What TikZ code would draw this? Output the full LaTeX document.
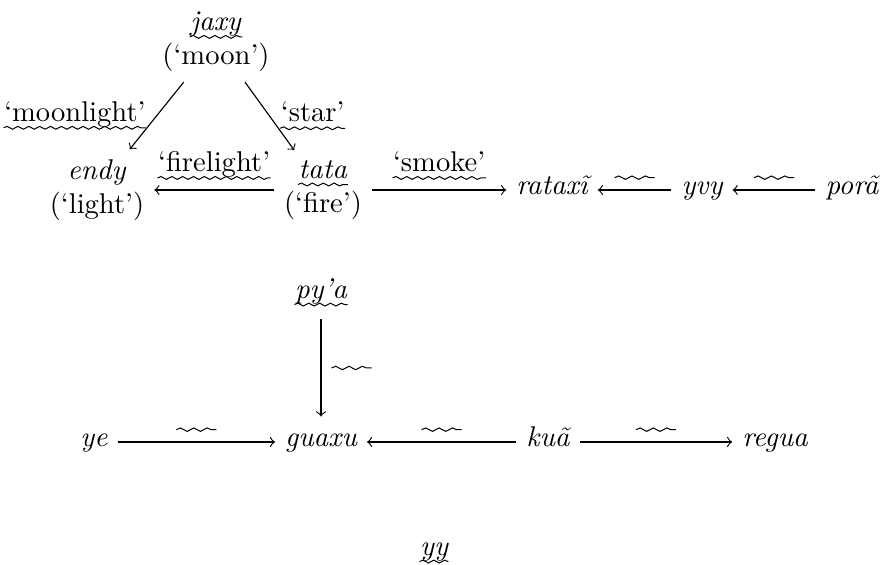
\documentclass[tikz,border=0pt]{standalone}
\usetikzlibrary{decorations.pathmorphing}

\tikzset{
    wave/.style={
        -,
        line width=.35pt,
        decorate,
        decoration={snake, amplitude=.5pt, segment length=3.8pt}
    }
}
% wavy underline and a bare wave as edge label
\newcommand{\wv}[1]{\tikz[baseline=(wv.base)]{%
    \node[inner sep=0pt] (wv) {#1};
    \draw[wave] ([yshift=-2.2pt]wv.base west) -- ([yshift=-2.2pt]wv.base east);}}
\newcommand{\wavelabel}{\tikz{\draw[wave, decoration={segment length=4.65pt, amplitude=.6pt}]
    (0pt,0pt) -- (14pt,0pt);}}

\begin{document}
\begin{tikzpicture}[
    x=0.35pt,
    y=-0.35pt,
    word/.style={
        font=\itshape,
        text height=1.6ex,
        text depth=.9ex
    },
    gloss/.style={align=center},
    edge/.style={->}
]
\useasboundingbox (0,0) rectangle (882,565);

% top: moon, light, fire
\node[gloss] (jaxy) at (216,42) {\wv{\textit{jaxy}}\\(‘moon’)};
\node[gloss] (endy) at (97,190) {\textit{endy}\\(‘light’)};
\node[gloss] (tata) at (323,190) {\wv{\textit{tata}}\\(‘fire’)};
\node[word] (rataxi) at (552,190) {rataxĩ};
\node[word] (yvy) at (702,190) {yvy};
\node[word] (pora) at (852,190) {porã};

% middle
\node[word] (pya) at (321,294) {\wv{py’a}};
\node[word] (ye) at (94,442) {ye};
\node[word] (guaxu) at (321,442) {guaxu};
\node[word] (kua) at (548,442) {kuã};
\node[word] (regua) at (775,442) {regua};

% bottom
\node[word] (yy) at (434,551) {\wv{yy}};

\draw[edge] (jaxy) -- (endy) node[midway, left] {\wv{‘moonlight’}};
\draw[edge] (jaxy) -- (tata) node[midway, right] {\wv{‘star’}};
\draw[edge] (tata) -- (endy) node[midway, above] {\wv{‘firelight’}};
\draw[edge] (tata) -- (rataxi) node[midway, above] {\wv{‘smoke’}};
\draw[edge] (yvy) -- (rataxi) node[midway, above] {\wavelabel};
\draw[edge] (pora) -- (yvy) node[midway, above] {\wavelabel};

\draw[edge] (pya) -- (guaxu) node[midway, right] {\wavelabel};
\draw[edge] (ye) -- (guaxu) node[midway, above] {\wavelabel};
\draw[edge] (kua) -- (guaxu) node[midway, above] {\wavelabel};
\draw[edge] (kua) -- (regua) node[midway, above] {\wavelabel};

\end{tikzpicture}
\end{document}
